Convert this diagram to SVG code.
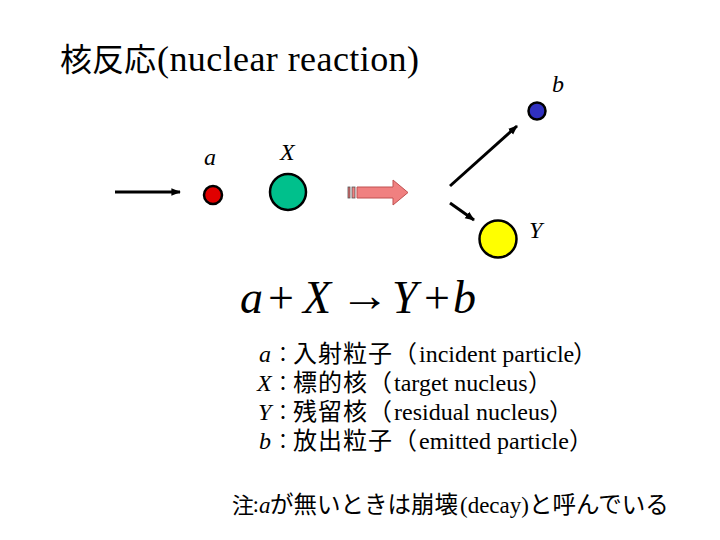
<svg xmlns="http://www.w3.org/2000/svg" width="720" height="540" viewBox="0 0 720 540">
<style>
.s{font-family:"Liberation Serif","DejaVu Serif",serif;font-weight:400;fill:#000}
.j{font-family:"Noto Sans CJK JP","Noto Sans CJK SC",sans-serif;fill:#000}
.i{font-style:italic}
.ln{stroke:#000;stroke-width:3;fill:none}
.p{stroke:#000;stroke-width:2.5}
.c{font-size:20px}
.k{font-size:24px;letter-spacing:1px}
</style>
<defs>
<marker id="ah" viewBox="0 0 10 10" refX="9" refY="5" markerWidth="3.2" markerHeight="3.2" orient="auto" markerUnits="strokeWidth">
<path d="M0,1 L10,5 L0,9 z" fill="#000"/>
</marker>
</defs>
<rect width="720" height="540" fill="#fff"/>
<g id="title">
<text class="j" x="60" y="71" font-size="32">核反応</text>
<text class="s" x="157" y="71" font-size="36" textLength="262" lengthAdjust="spacing">(nuclear reaction)</text>
</g>
<g id="connectors">
<line class="ln" x1="115" y1="192" x2="180" y2="192" marker-end="url(#ah)"/>
<line class="ln" x1="450" y1="186" x2="517" y2="126" marker-end="url(#ah)"/>
<line class="ln" x1="450" y1="203" x2="474" y2="220" marker-end="url(#ah)"/>
</g>
<g id="node-a">
<circle class="p" cx="213" cy="195" r="9" fill="#e00000"/>
<text class="s i" x="204" y="165" font-size="24">a</text>
</g>
<g id="node-X">
<circle class="p" cx="288" cy="192" r="18" fill="#00c08c"/>
<text class="s i" x="280" y="160" font-size="24">X</text>
</g>
<g id="flow-arrow">
<rect x="348" y="187" width="2" height="11" fill="#e86a6a" stroke="#555" stroke-width="0.8"/>
<rect x="352" y="187" width="3" height="11" fill="#f08080" stroke="#555" stroke-width="0.8"/>
<path d="M357,187 H393 V180 L408,192.5 L393,205 V198 H357 Z" fill="#f08080" stroke="#c05050" stroke-width="1"/>
</g>
<g id="node-b">
<circle class="p" cx="537" cy="111" r="8.5" fill="#3030c0"/>
<text class="s i" x="552" y="92" font-size="24">b</text>
</g>
<g id="node-Y">
<circle class="p" cx="498" cy="239" r="18.5" fill="#ffff00"/>
<text class="s i" x="529" y="238" font-size="24">Y</text>
</g>
<g id="equation" font-size="46">
<text class="s i" x="240" y="313">a</text>
<text class="s" x="268" y="313">+</text>
<text class="s i" x="303" y="313">X</text>
<text class="s" x="340" y="311" textLength="50" lengthAdjust="spacingAndGlyphs">→</text>
<text class="s i" x="392" y="313">Y</text>
<text class="s" x="424" y="313">+</text>
<text class="s i" x="453" y="313">b</text>
</g>
<g id="legend">
<text class="s i" x="259" y="362" font-size="24">a</text>
<text class="j" x="273" y="362"><tspan class="c">：</tspan><tspan class="k">入射粒子（</tspan></text>
<text class="s" x="419" y="362" font-size="24">incident particle</text>
<text class="j" x="573" y="362" font-size="24">）</text>
<text class="s i" x="257" y="391" font-size="24">X</text>
<text class="j" x="273" y="391"><tspan class="c">：</tspan><tspan class="k">標的核（</tspan></text>
<text class="s" x="394" y="391" font-size="24">target nucleus</text>
<text class="j" x="528" y="391" font-size="24">）</text>
<text class="s i" x="258" y="420" font-size="24">Y</text>
<text class="j" x="273" y="420"><tspan class="c">：</tspan><tspan class="k">残留核（</tspan></text>
<text class="s" x="394" y="420" font-size="24">residual nucleus</text>
<text class="j" x="549" y="420" font-size="24">）</text>
<text class="s i" x="259" y="449" font-size="24">b</text>
<text class="j" x="273" y="449"><tspan class="c">：</tspan><tspan class="k">放出粒子（</tspan></text>
<text class="s" x="419" y="449" font-size="24">emitted particle</text>
<text class="j" x="569" y="449" font-size="24">）</text>
</g>
<g id="note">
<text class="j" x="232" y="513" font-size="22">注</text>
<text class="j" x="253" y="512" font-size="20">:</text>
<text class="s i" x="259" y="513" font-size="23">a</text>
<text class="j" x="270" y="513" font-size="23.5">が無いときは崩壊</text>
<text class="s" x="460" y="513" font-size="23">(decay)</text>
<text class="j" x="529" y="513" font-size="23.5">と呼んでいる</text>
</g>
</svg>
